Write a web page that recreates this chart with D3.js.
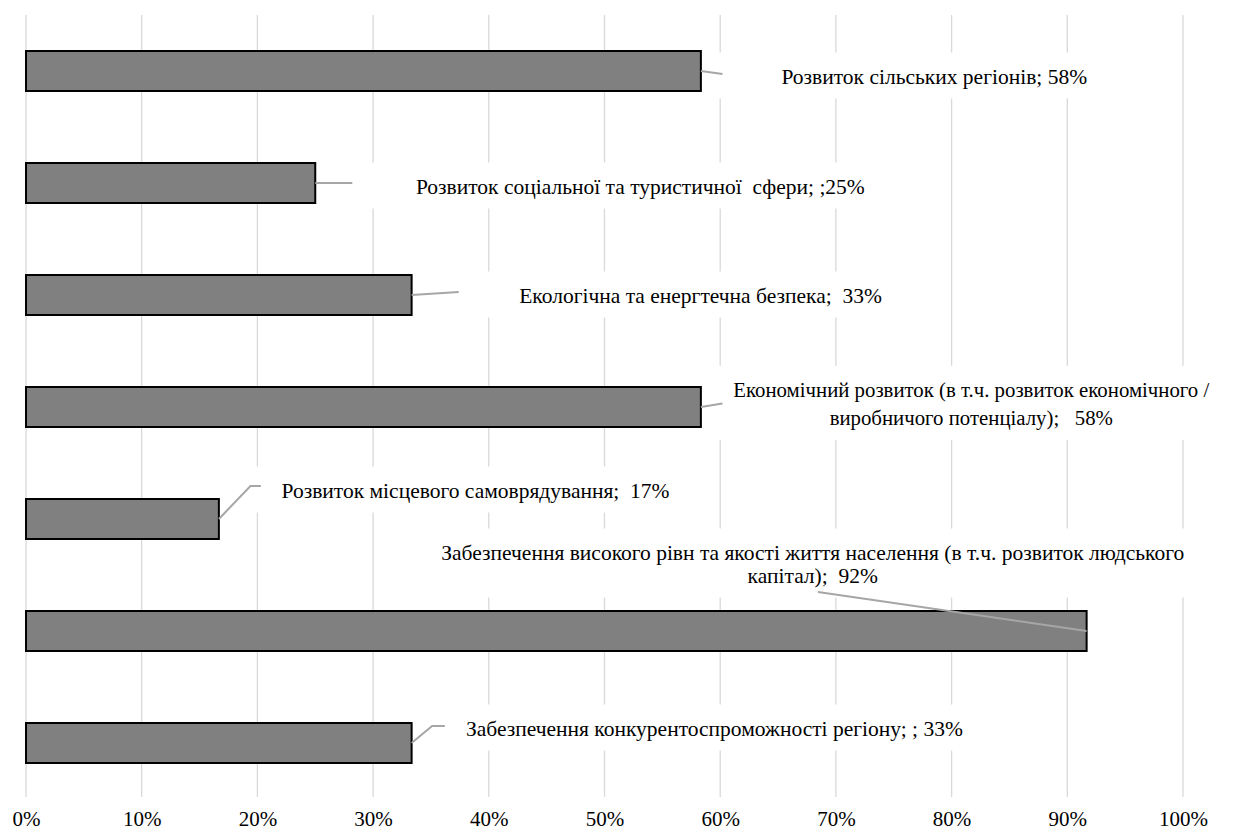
<!DOCTYPE html>
<html>
<head>
<meta charset="utf-8">
<script src="https://cdn.jsdelivr.net/npm/d3@7"></script>
<style>
  html, body { margin: 0; padding: 0; background: #fff; }
  svg { display: block; }
</style>
</head>
<body>
<svg id="chart" width="1233" height="832"></svg>
<script>
// ---- data ----
const categories = [
  "Розвиток сільських регіонів",
  "Розвиток соціальної та туристичної сфери",
  "Екологічна та енергтечна безпека",
  "Економічний розвиток",
  "Розвиток місцевого самоврядування",
  "Забезпечення високого рівня та якості життя населення",
  "Забезпечення конкурентоспроможності регіону"
];
const values = [58.33, 25, 33.33, 58.33, 16.67, 91.67, 33.33];
const labelLines = [
  ["Розвиток сільських регіонів; 58%"],
  ["Розвиток соціальної та туристичної  сфери; ;25%"],
  ["Екологічна та енергтечна безпека;  33%"],
  ["Економічний розвиток (в т.ч. розвиток економічного /", "виробничого потенціалу);   58%"],
  ["Розвиток місцевого самоврядування;  17%"],
  ["Забезпечення високого рівн та якості життя населення (в т.ч. розвиток людського", "капітал);  92%"],
  ["Забезпечення конкурентоспроможності регіону; ; 33%"]
];
const tickValues = [0, 10, 20, 30, 40, 50, 60, 70, 80, 90, 100];

// ---- layout (label placement, in value units / px offsets from band centre) ----
const labelCx = [78.5, 53.1, 58.3, 81.7, 38.85, 68.0, 59.5];
const labelDy = [5, 3, 0, -3.5, -29, -67.5, -15];
const labelFs = [21.5, 21.5, 21.5, 20.8, 21.5, 21.5, 21.5];
const labelLh = [25, 25, 25, 28, 25, 23, 25];
// leader path: list of [value, dy] points after the bar end
const leaderPts = [
  [[60.2, 3]],
  [[28.2, 0]],
  [[37.4, -3]],
  [[60.2, -3.5]],
  [[19.4, -33], [20.3, -33]],
  [[68.45, -39]],
  [[35.1, -17], [36.2, -17]]
];

const svg = d3.select("#chart");
const FONT = "Liberation Serif";
const TFS = 21;

const x = d3.scaleLinear().domain([0, 100]).range([26, 1183]);
const y = d3.scaleBand().domain(categories).range([15, 799]).paddingInner(0.643).paddingOuter(0.3215);

const gGrid = svg.append("g");
const gBox = svg.append("g");
const gBars = svg.append("g");
const gLead = svg.append("g");
const gText = svg.append("g");

// gridlines
gGrid.selectAll("line").data(tickValues).join("line")
  .attr("x1", d => x(d)).attr("x2", d => x(d))
  .attr("y1", 15).attr("y2", 797)
  .attr("stroke", "#d9d9d9").attr("stroke-width", 1.3);

// bars
gBars.selectAll("rect").data(categories).join("rect")
  .attr("x", x(0))
  .attr("y", d => y(d))
  .attr("width", (d, i) => x(values[i]) - x(0))
  .attr("height", y.bandwidth())
  .attr("fill", "#808080")
  .attr("stroke", "#000").attr("stroke-width", 2);

// x axis tick labels
const axis = d3.axisBottom(x).tickValues(tickValues).tickFormat(d => d + "%").tickSize(0).tickPadding(0);
const ax = svg.append("g").attr("transform", "translate(0,811)").call(axis);
ax.select(".domain").remove();
ax.selectAll("text").style("font-family", FONT).style("font-size", TFS + "px").attr("fill", "#000");

// data labels
categories.forEach((c, i) => {
  const cy = y(c) + y.bandwidth() / 2;
  const lines = labelLines[i];
  const tx = x(labelCx[i]);
  const ty = cy + labelDy[i];
  const lh = labelLh[i];
  const pts = [[x(values[i]), cy]].concat(leaderPts[i].map(p => [x(p[0]), cy + p[1]]));
  const box = gBox.append("rect").attr("fill", "#fff");
  const t = gText.append("text")
    .style("font-family", FONT).style("font-size", labelFs[i] + "px")
    .style("white-space", "pre")
    .attr("fill", "#000")
    .attr("text-anchor", "middle");
  lines.forEach((ln, k) => {
    t.append("tspan").attr("x", tx)
      .attr("y", ty + (k - (lines.length - 1) / 2) * lh)
      .attr("dy", "0.35em").text(ln);
  });
  const bb = t.node().getBBox();
  const lastPt = pts[pts.length - 1];
  let left = Math.min(bb.x - 8, lastPt[0] - 6);
  if (i === 5) left = bb.x - 8;
  const right = tx + (tx - left);
  box.attr("x", left).attr("y", bb.y - 12).attr("width", right - left).attr("height", bb.height + 22);
  gLead.append("path")
    .attr("d", d3.line()(pts))
    .attr("fill", "none").attr("stroke", "#a6a6a6").attr("stroke-width", 2);
});
</script>
</body>
</html>
